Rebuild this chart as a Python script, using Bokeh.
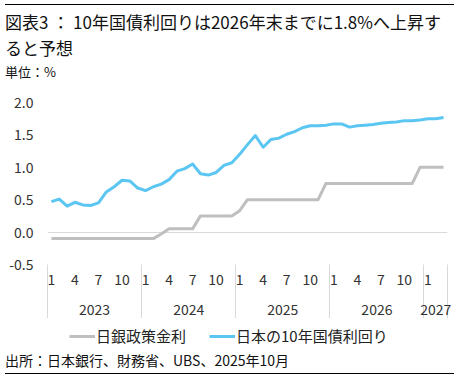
from bokeh.plotting import figure
from bokeh.models import (ColumnDataSource, FixedTicker, LinearAxis, Range1d, Legend,
                          LegendItem, Div, NumeralTickFormatter, Grid)
from bokeh.layouts import column
from bokeh.embed import file_html
from bokeh.resources import INLINE

# ---------------- data ----------------
years = ["2023", "2024", "2025", "2026", "2027"]
month_numbers = list(range(1, 13)) * 4 + [1, 2, 3]
year_of_month = ["2023"] * 12 + ["2024"] * 12 + ["2025"] * 12 + ["2026"] * 12 + ["2027"] * 3
tick_months = [1, 4, 7, 10]

policy_rate = [
    -0.10, -0.10, -0.10, -0.10, -0.10, -0.10, -0.10, -0.10, -0.10, -0.10, -0.10, -0.10,
    -0.10, -0.10, -0.03, 0.05, 0.05, 0.05, 0.05, 0.25, 0.25, 0.25, 0.25, 0.25,
    0.33, 0.50, 0.50, 0.50, 0.50, 0.50, 0.50, 0.50, 0.50, 0.50, 0.50, 0.75,
    0.75, 0.75, 0.75, 0.75, 0.75, 0.75, 0.75, 0.75, 0.75, 0.75, 0.75, 1.00,
    1.00, 1.00, 1.00,
]
jgb10y = [
    0.47, 0.51, 0.40, 0.46, 0.42, 0.41, 0.45, 0.62, 0.70, 0.80, 0.79, 0.68,
    0.64, 0.70, 0.74, 0.81, 0.94, 0.98, 1.05, 0.90, 0.88, 0.92, 1.03, 1.07,
    1.20, 1.35, 1.49, 1.31, 1.43, 1.45, 1.51, 1.55, 1.61, 1.64, 1.64, 1.65,
    1.67, 1.67, 1.62, 1.64, 1.65, 1.66, 1.68, 1.69, 1.70, 1.72, 1.72, 1.73,
    1.75, 1.75, 1.77,
]
y_ticks = [-0.5, 0.0, 0.5, 1.0, 1.5, 2.0]
series_names = ["日銀政策金利", "日本の10年国債利回り"]

title_line1 = "図表3 ： 10年国債利回りは2026年末までに1.8%へ上昇す"
title_line2 = "ると予想"
unit_text = "単位：%"
source_text = "出所：日本銀行、財務省、UBS、2025年10月"

# ---------------- styling ----------------
FONT = "Noto Sans CJK JP"
GRAY = "#BFBFBF"
BLUE = "#5BC6F2"
SEP = "#D9D9D9"
TXT = "#333333"

idx = list(range(len(jgb10y)))
src = ColumnDataSource(dict(x=idx, rate=policy_rate, jgb=jgb10y))

month_tick_pos = [i for i, m in enumerate(month_numbers) if m in tick_months]
month_overrides = {i: str(month_numbers[i]) for i in month_tick_pos}
year_centers = []
separators = []
for y in years:
    ii = [i for i, yy in enumerate(year_of_month) if yy == y]
    year_centers.append((ii[0] + ii[-1]) / 2)
    separators.append(ii[0] - 0.5)
separators.append(len(idx) - 0.5)
year_overrides = {c: y for c, y in zip(year_centers, years)}

# ---------------- main chart ----------------
p = figure(width=464, height=230, output_backend="svg", toolbar_location=None,
           x_range=Range1d(-0.5, len(idx) - 0.5), y_range=Range1d(-0.5, 2.0),
           x_axis_type=None, y_axis_type=None,
           min_border_left=47, min_border_right=17, min_border_top=14, min_border_bottom=54)
p.outline_line_color = None
p.background_fill_color = "white"
p.border_fill_color = "white"
p.margin = (0, 0, 0, 0)

p.add_layout(Grid(dimension=1, ticker=FixedTicker(ticks=[0.0]),
                  grid_line_color=SEP, grid_line_width=1))

yaxis = LinearAxis(ticker=FixedTicker(ticks=y_ticks), formatter=NumeralTickFormatter(format="0.0"),
                   axis_line_color=None, major_tick_line_color=None, minor_tick_line_color=None,
                   major_tick_out=0, major_tick_in=0, major_label_standoff=14,
                   major_label_text_font=FONT, major_label_text_font_size="14px",
                   major_label_text_color=TXT)
p.add_layout(yaxis, "left")

month_axis = LinearAxis(ticker=FixedTicker(ticks=month_tick_pos, minor_ticks=separators),
                        major_label_overrides=month_overrides,
                        axis_line_color=None, major_tick_line_color=None,
                        major_tick_out=0, major_tick_in=0,
                        minor_tick_line_color=SEP, minor_tick_out=54, minor_tick_in=0,
                        minor_tick_line_width=1,
                        major_label_standoff=-45,
                        major_label_text_font=FONT, major_label_text_font_size="14px",
                        major_label_text_color=TXT)
p.add_layout(month_axis, "below")

year_axis = LinearAxis(ticker=FixedTicker(ticks=year_centers),
                       major_label_overrides=year_overrides,
                       axis_line_color=None, major_tick_line_color=None, minor_tick_line_color=None,
                       major_tick_out=0, major_tick_in=0, major_label_standoff=16,
                       major_label_text_font=FONT, major_label_text_font_size="14px",
                       major_label_text_color=TXT)
p.add_layout(year_axis, "below")

p.line("x", "rate", source=src, line_color=GRAY, line_width=3, line_join="round")
p.line("x", "jgb", source=src, line_color=BLUE, line_width=3, line_join="round")

# ---------------- legend strip ----------------
nan = float("nan")
lg = figure(width=464, height=32, output_backend="svg", toolbar_location=None,
            x_range=Range1d(0, 1), y_range=Range1d(0, 1),
            x_axis_type=None, y_axis_type=None, min_border=0,
            min_border_left=0, min_border_right=0, min_border_top=0, min_border_bottom=0)
lg.outline_line_color = None
lg.margin = (0, 0, 0, 0)
lg_gray = lg.line(x=[nan, nan], y=[nan, nan], line_color=GRAY, line_width=3)
lg_blue = lg.line(x=[nan, nan], y=[nan, nan], line_color=BLUE, line_width=3)
legend = Legend(items=[LegendItem(label=series_names[0], renderers=[lg_gray]),
                       LegendItem(label=series_names[1], renderers=[lg_blue])],
                orientation="horizontal", location=(22, 4),
                border_line_color=None, background_fill_alpha=0,
                glyph_width=26, glyph_height=14, label_standoff=1, spacing=23,
                padding=0, margin=0,
                label_text_font=FONT, label_text_font_size="15px", label_text_color="#222222")
lg.add_layout(legend, "center")

# ---------------- header / footer ----------------
top_html = f"""
<div style="position:relative;width:464px;height:88px;font-family:'{FONT}';color:#111;">
  <div style="position:absolute;left:5px;top:4px;width:449px;height:0;border-top:1px solid #000;"></div>
  <div style="position:absolute;left:5px;top:9px;font-size:17px;line-height:26px;white-space:nowrap;">{title_line1}<br>{title_line2}</div>
  <div style="position:absolute;left:5px;top:63px;font-size:13px;line-height:18px;white-space:nowrap;">{unit_text}</div>
</div>"""
bottom_html = f"""
<div style="position:relative;width:464px;height:27px;font-family:'{FONT}';color:#111;">
  <div style="position:absolute;left:5px;top:1px;font-size:14px;line-height:18px;white-space:nowrap;">{source_text}</div>
  <div style="position:absolute;left:5px;top:23px;width:449px;height:0;border-top:1px solid #000;"></div>
</div>"""
top_div = Div(text=top_html, width=464, height=88, margin=(0, 0, 0, 0))
bottom_div = Div(text=bottom_html, width=464, height=27, margin=(0, 0, 0, 0))

layout = column(top_div, p, lg, bottom_div, spacing=0, margin=(0, 0, 0, 0))

open("out.html", "w").write(file_html(layout, INLINE))
